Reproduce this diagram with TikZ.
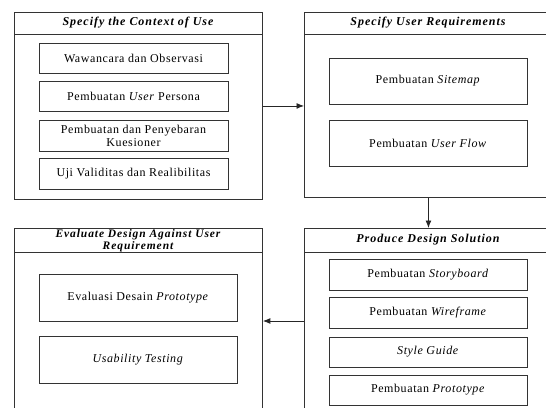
\documentclass[tikz,border=0pt]{standalone}
\usepackage{fontspec}
\setmainfont{Liberation Serif}
\newfontfamily\boxfont[LetterSpace=5]{Liberation Serif}
\newfontfamily\headfont[LetterSpace=8]{Liberation Serif}
\usetikzlibrary{arrows.meta}

\tikzset{
  panel/.style={draw=black!80, line width=0.9pt, rectangle, inner sep=0pt},
  taskbox/.style={draw=black!80, line width=0.9pt, rectangle, inner sep=0pt, align=center, font=\boxfont\fontsize{12}{13}\selectfont},
  headtext/.style={align=center, font=\headfont\fontsize{12}{12}\selectfont\bfseries\itshape},
  flow/.style={draw=black!85, line width=0.9pt, -{Latex[length=7.5pt,width=6pt]}}
}

\begin{document}
\begin{tikzpicture}[x=1pt,y=1pt,yscale=-1,xscale=1]
\useasboundingbox (0,0) rectangle (546,407);
\clip (0,0) rectangle (546,407);

%Shape: Rectangle [context of use]
\node [panel, minimum width=248, minimum height=187, anchor=north west] (ctx) at (14,12) {};
\draw [panel] (ctx.west |- 0,34) -- (ctx.east |- 0,34) ;
% Text Node
\node [headtext] (ctxhead) at (138,23) {Specify the Context of Use};
% Task boxes
\node [taskbox, minimum width=189, minimum height=30] (wawancara) at (133.5,58) {Wawancara dan Observasi};
\node [taskbox, minimum width=189, minimum height=30] (persona) at (133.5,96) {Pembuatan \textit{User} Persona};
\node [taskbox, minimum width=189, minimum height=31] (kuesioner) at (133.5,135.5) {Pembuatan dan Penyebaran\\Kuesioner};
\node [taskbox, minimum width=189, minimum height=31] (uji) at (133.5,173.5) {Uji Validitas dan Realibilitas};

%Shape: Rectangle [user requirements]
\node [panel, minimum width=248, minimum height=185, anchor=north west] (req) at (304,12) {};
\draw [panel] (req.west |- 0,34) -- (req.east |- 0,34) ;
% Text Node
\node [headtext] (reqhead) at (428,23) {Specify User Requirements};
% Task boxes
\node [taskbox, minimum width=198, minimum height=46] (sitemap) at (428,81) {Pembuatan \textit{Sitemap}};
\node [taskbox, minimum width=198, minimum height=46] (userflow) at (428,143) {Pembuatan \textit{User Flow}};

%Shape: Rectangle [design solution]
\node [panel, minimum width=248, minimum height=200, anchor=north west] (sol) at (304,228) {};
\draw [panel] (sol.west |- 0,252) -- (sol.east |- 0,252) ;
% Text Node
\node [headtext] (solhead) at (428,240) {Produce Design Solution};
% Task boxes
\node [taskbox, minimum width=198, minimum height=31] (storyboard) at (428,274.5) {Pembuatan \textit{Storyboard}};
\node [taskbox, minimum width=198, minimum height=31] (wireframe) at (428,312.5) {Pembuatan \textit{Wireframe}};
\node [taskbox, minimum width=198, minimum height=30] (styleguide) at (428,352) {\textit{Style Guide}};
\node [taskbox, minimum width=198, minimum height=30] (prototype) at (428,390) {Pembuatan \textit{Prototype}};

%Shape: Rectangle [evaluate design]
\node [panel, minimum width=248, minimum height=200, anchor=north west] (eval) at (14,228) {};
\draw [panel] (eval.west |- 0,252) -- (eval.east |- 0,252) ;
% Text Node
\node [headtext, font=\headfont\fontsize{11.5}{12.5}\selectfont\bfseries\itshape] (evalhead) at (138,240.5) {Evaluate Design Against User\\Requirement};
% Task boxes
\node [taskbox, minimum width=198, minimum height=47] (evaluasi) at (138,297.5) {Evaluasi Desain \textit{Prototype}};
\node [taskbox, minimum width=198, minimum height=47] (usability) at (138,359.5) {\textit{Usability Testing}};

%Arrows
\coordinate (backrow) at (0,321);
\draw [flow] (ctx.east) -- (ctx.east -| req.west) ;
\draw [flow] (req.south) -- (sol.north) ;
\draw [flow] (sol.west |- backrow) -- (eval.east |- backrow) ;

\end{tikzpicture}
\end{document}
